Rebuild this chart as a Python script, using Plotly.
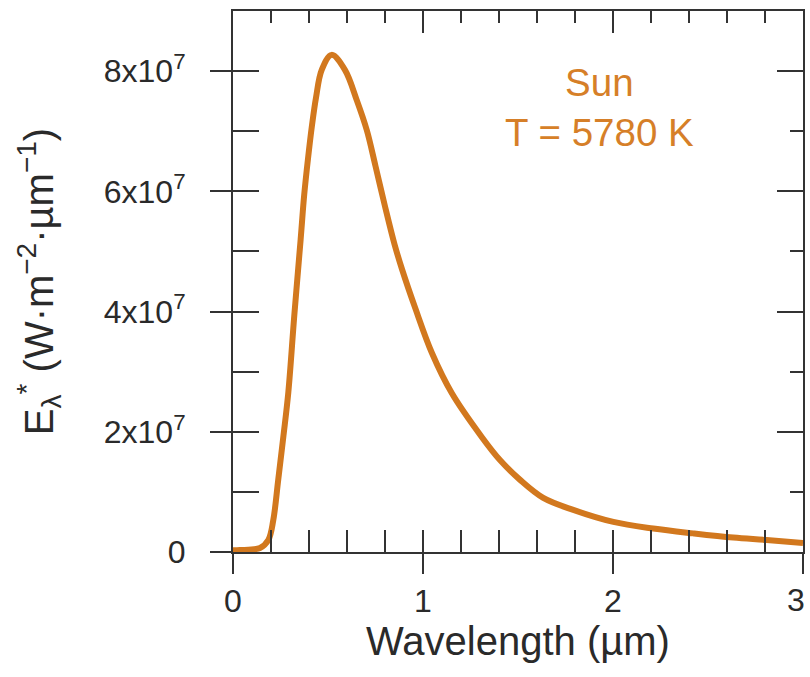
import plotly.graph_objects as go

# Data (wavelength in µm, spectral emittance in W·m^-2·µm^-1)
wavelength = [0.0, 0.037, 0.142, 0.186, 0.212, 0.238, 0.265, 0.291, 0.323, 0.356, 0.375,
              0.395, 0.415, 0.437, 0.467, 0.519, 0.589, 0.651, 0.704, 0.750, 0.800,
              0.850, 0.890, 0.960, 1.047, 1.152, 1.310, 1.405, 1.511, 1.633, 1.791, 2.002,
              2.212, 2.423, 2.633, 2.809, 3.0]
emittance = [0.03e7, 0.033e7, 0.067e7, 0.20e7, 0.53e7, 1.20e7, 1.92e7, 2.65e7, 3.95e7, 5.20e7, 5.95e7,
             6.55e7, 7.08e7, 7.56e7, 8.02e7, 8.27e7, 8.02e7, 7.52e7, 7.02e7, 6.42e7, 5.75e7,
             5.12e7, 4.70e7, 4.05e7, 3.31e7, 2.64e7, 1.91e7, 1.53e7, 1.20e7, 0.90e7, 0.70e7, 0.50e7,
             0.39e7, 0.31e7, 0.24e7, 0.20e7, 0.15e7]

x_ticks = [0, 1, 2, 3]
x_labels = ["0", "1", "2", ""]
x_last_tick = [3]
x_last_label = ["3"]
y_ticks = [0, 2e7, 4e7, 6e7, 8e7]
y_labels = ["0", "2x10<sup>7</sup>", "4x10<sup>7</sup>", "6x10<sup>7</sup>", "8x10<sup>7</sup>"]

x_range = [0, 3]
y_range = [0, 9e7]

ORANGE = "#D2781E"
AXC = "#333333"
FONT = "Liberation Sans, Arial, Helvetica, sans-serif"

fig = go.Figure()
fig.add_trace(go.Scatter(x=wavelength, y=emittance, mode="lines",
                         line=dict(color=ORANGE, width=6, shape="spline", smoothing=1.0),
                         xaxis="x", yaxis="y", showlegend=False, hoverinfo="skip"))
# invisible traces to activate helper axes
fig.add_trace(go.Scatter(x=[None], y=[None], xaxis="x2", yaxis="y2", showlegend=False))
fig.add_trace(go.Scatter(x=[None], y=[None], xaxis="x3", yaxis="y3", showlegend=False))
fig.add_trace(go.Scatter(x=[None], y=[None], xaxis="x4", yaxis="y", showlegend=False))

common = dict(showgrid=False, zeroline=False, tickcolor=AXC, tickwidth=2, automargin=False)

fig.update_layout(
    width=810, height=677,
    margin=dict(l=233, r=7, t=11, b=125, autoexpand=False),
    paper_bgcolor="white", plot_bgcolor="white",
    font=dict(family=FONT, color="#2a2a2a"),
    showlegend=False,
    xaxis=dict(range=x_range, tickvals=x_ticks, ticktext=x_labels, ticks="outside", ticklen=20,
               showline=True, linewidth=2, linecolor=AXC, tickfont=dict(size=32),
               title=dict(text="Wavelength (µm)", font=dict(size=40), standoff=6),
               anchor="y", **common),
    xaxis4=dict(range=x_range, tickvals=x_last_tick, ticktext=x_last_label, ticks="outside",
                ticklen=20, tickfont=dict(size=32), ticklabelshift=-7, ticklabeloverflow="allow",
                showline=False, overlaying="x", anchor="y", side="bottom", **common),
    xaxis2=dict(range=x_range, tick0=0, dtick=0.2, ticks="inside", ticklen=22,
                showticklabels=False, showline=False, overlaying="x", anchor="y2", side="bottom",
                **common),
    xaxis3=dict(range=x_range, tickvals=x_ticks, ticks="inside", ticklen=22,
                minor=dict(tick0=0, dtick=0.2, ticks="inside", ticklen=12, tickcolor=AXC, tickwidth=2),
                showticklabels=False, showline=True, linewidth=2, linecolor=AXC,
                overlaying="x", anchor="y3", side="top", **common),
    yaxis=dict(range=y_range, tickvals=y_ticks, ticktext=y_labels, ticks="outside", ticklen=21,
               showline=True, linewidth=2, linecolor=AXC, tickfont=dict(size=32),
               ticklabelstandoff=18,
               title=dict(text="E<sub>λ</sub><sup>*</sup> (W·m<sup>−2</sup>·µm<sup>−1</sup>)",
                          font=dict(size=40), standoff=38),
               anchor="x", **common),
    yaxis2=dict(range=y_range, tick0=0, dtick=1e7, ticks="inside", ticklen=26,
                showticklabels=False, showline=False, overlaying="y", anchor="x2", side="left",
                **common),
    yaxis3=dict(range=y_range, tickvals=y_ticks, ticks="inside", ticklen=26,
                minor=dict(tick0=0, dtick=1e7, ticks="inside", ticklen=13, tickcolor=AXC, tickwidth=2),
                showticklabels=False, showline=True, linewidth=2, linecolor=AXC,
                overlaying="y", anchor="x3", side="right", **common),
)

fig.add_annotation(x=1.93, y=7.40e7, xref="x", yref="y", text="Sun<br>T = 5780 K",
                   showarrow=False, font=dict(size=38.5, color="#D67F28", family=FONT),
                   align="center")

fig.write_html("out.html")
